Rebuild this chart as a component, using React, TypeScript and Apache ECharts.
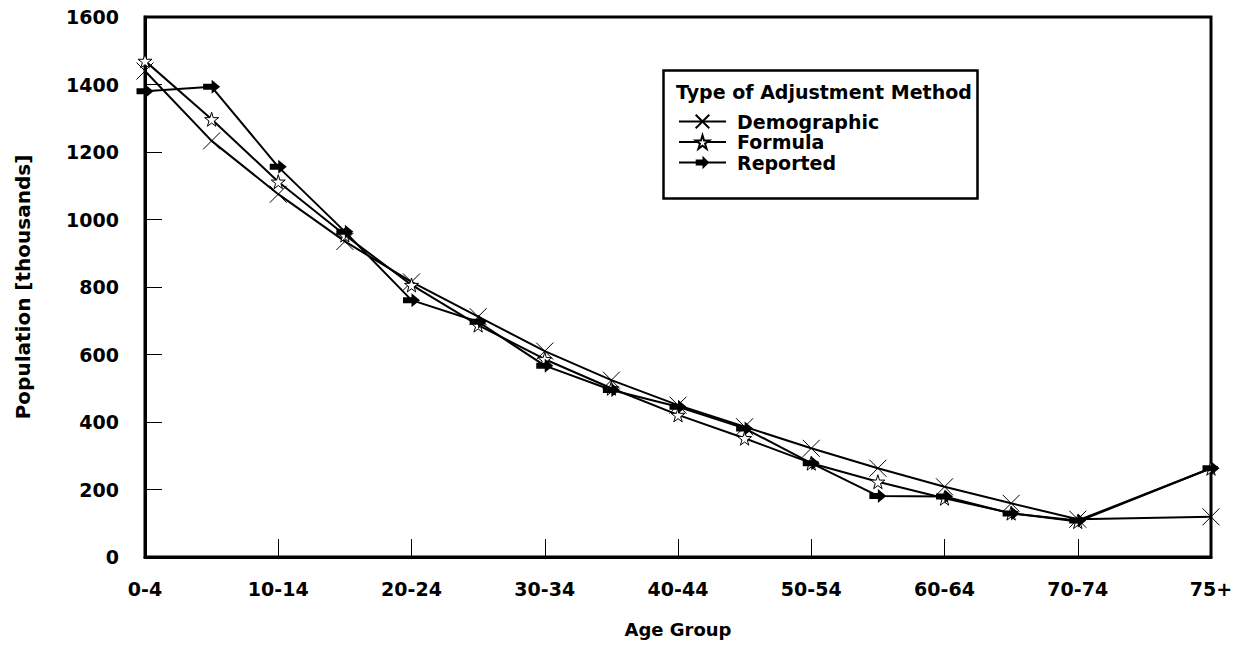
import React, { useEffect, useRef } from "react";
import * as echarts from "echarts";

const categories = ["0-4","5-9","10-14","15-19","20-24","25-29","30-34","35-39","40-44","45-49","50-54","55-59","60-64","65-69","70-74","","75+"];
const demographic = [1440,1233,1075,935,815,712,610,524,450,386,322,263,208,159,112,null,119];
const formula = [1470,1297,1112,954,806,687,586,500,421,352,278,223,174,130,105,null,263];
const reported = [1380,1393,1156,964,761,697,567,495,445,381,278,181,179,129,108,null,263];
const yTicks = { min: 0, max: 1600, interval: 200 };

const FONT = "DejaVu Sans";
const X_SYM = "path://M0,0L16,16M16,0L0,16";
const STAR_SYM = "path://M50,0L61,35L98,35L68,57L79,91L50,70L21,91L32,57L2,35L39,35Z";
const ARROW_SYM = "path://M0,4L9,4L9,0L18,7L9,14L9,10L0,10Z";

export default function App() {
  const ref = useRef<HTMLDivElement>(null);
  useEffect(() => {
    const chart = echarts.init(ref.current!, null, { renderer: "svg" });
    const lineStyle = { color: "#000", width: 2 };
    chart.setOption({
      animation: false,
      backgroundColor: "#fff",
      grid: { left: 145, right: 30, top: 17, bottom: 89, show: true, borderColor: "#000", borderWidth: 3 },
      xAxis: {
        type: "category",
        data: categories,
        boundaryGap: false,
        name: "Age Group",
        nameLocation: "middle",
        nameGap: 63,
        nameTextStyle: { fontFamily: FONT, fontWeight: "bold", fontSize: 18, color: "#000" },
        axisLine: { lineStyle: { color: "#000", width: 3 } },
        axisTick: { inside: true, length: 18, interval: 1, lineStyle: { color: "#000", width: 1 } },
        axisLabel: { interval: 1, margin: 22, fontFamily: FONT, fontWeight: "bold", fontSize: 19, color: "#000" },
        splitLine: { show: false },
      },
      yAxis: {
        type: "value",
        min: yTicks.min,
        max: yTicks.max,
        interval: yTicks.interval,
        name: "Population [thousands]",
        nameLocation: "middle",
        nameGap: 112,
        nameTextStyle: { fontFamily: FONT, fontWeight: "bold", fontSize: 20, color: "#000" },
        axisLine: { show: true, lineStyle: { color: "#000", width: 3 } },
        axisTick: { show: true, inside: true, length: 17, lineStyle: { color: "#000", width: 1 } },
        axisLabel: { margin: 26, formatter: (v: number) => String(v), fontFamily: FONT, fontWeight: "bold", fontSize: 19, color: "#000" },
        splitLine: { show: false },
      },
      legend: {
        orient: "vertical",
        left: 673,
        top: 107,
        itemWidth: 47,
        itemHeight: 17,
        itemGap: 1.5,
        textStyle: { fontFamily: FONT, fontWeight: "bold", fontSize: 19, color: "#000", padding: [0, 0, 0, 6] },
        data: ["Demographic", "Formula", "Reported"],
      },
      graphic: [
        { type: "rect", left: 661, top: 68, shape: { width: 314, height: 128 }, style: { fill: "none", stroke: "#000", lineWidth: 2.5 }, z: 10 },
        { type: "text", left: 676, top: 82, style: { text: "Type of Adjustment Method", font: `bold 19px "${FONT}"`, fill: "#000" }, z: 10 },
      ],
      series: [
        {
          name: "Demographic", type: "line", data: demographic, connectNulls: true,
          symbol: X_SYM, symbolSize: 17, lineStyle,
          itemStyle: { color: "rgba(0,0,0,0)", borderColor: "#000", borderWidth: 1 }, z: 2,
        },
        {
          name: "Formula", type: "line", data: formula, connectNulls: true,
          symbol: STAR_SYM, symbolSize: 14, lineStyle,
          itemStyle: { color: "#fff", borderColor: "#000", borderWidth: 1 }, z: 3,
        },
        {
          name: "Reported", type: "line", data: reported, connectNulls: true,
          symbol: ARROW_SYM, symbolSize: [17, 14], lineStyle,
          itemStyle: { color: "#000", borderColor: "#000", borderWidth: 0 }, z: 4,
        },
      ],
    });
    return () => chart.dispose();
  }, []);
  return <div ref={ref} style={{ width: 1241, height: 646, position: "absolute", left: 0, top: 0 }} />;
}
